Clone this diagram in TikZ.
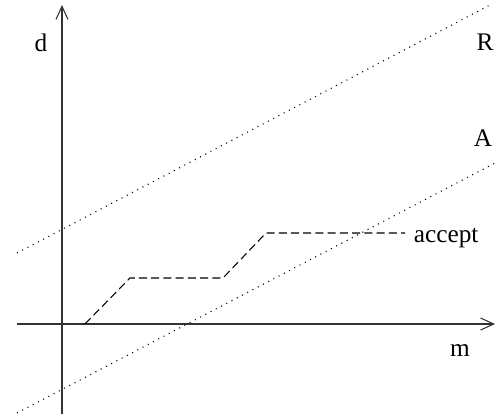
\documentclass[tikz,border=0pt]{standalone}
\usepackage{fontspec}
\setmainfont{Liberation Serif}
\usetikzlibrary{arrows.meta,positioning}
\tikzset{
  >={Straight Barb[length=2.2mm,width=2mm]},
  axis/.style={->,line width=0.5pt,draw=black!80},
  bound/.style={line width=0.5pt,dash pattern=on 0.5pt off 2.3pt},
  path/.style={line width=0.5pt,dash pattern=on 3.8pt off 2pt},
  lbl/.style={font=\fontsize{12}{14}\selectfont,inner sep=2pt},
}
\begin{document}
\begin{tikzpicture}
  \useasboundingbox (-1.033,-1.567) rectangle (7.3,5.4);
  % axes
  \coordinate (ox) at (-0.75,0);   \coordinate (mx) at (7.217,0);
  \coordinate (oy) at (0,-1.5);    \coordinate (my) at (0,5.317);
  \draw[axis] (ox) -- (mx);
  \draw[axis] (oy) -- (my);
  \node[lbl] (d) at (-0.35,4.68) {d};
  \node[lbl] (m) at (6.633,-0.44) {m};
  % reject and accept bounds
  \coordinate (r0) at (-0.75,1.183); \coordinate (r1) at (7.133,5.317);
  \coordinate (a0) at (-0.75,-1.483); \coordinate (a1) at (7.217,2.683);
  \draw[bound] (r0) -- (r1);
  \draw[bound] (a0) -- (a1);
  \node[lbl] (R) at (7.05,4.7) {R};
  \node[lbl] (A) at (7.017,3.09) {A};
  % random walk
  \coordinate (w0) at (0.383,0);
  \coordinate (w1) at (1.133,0.767);
  \coordinate (w2) at (2.683,0.767);
  \coordinate (w3) at (3.4,1.517);
  \coordinate (w4) at (5.717,1.517);
  \draw[path] (w0) -- (w1) -- (w2) -- (w3) -- (w4);
  \node[lbl,anchor=west,inner sep=4pt,yshift=-0.08cm] (acc) at (w4) {accept};
\end{tikzpicture}
\end{document}
